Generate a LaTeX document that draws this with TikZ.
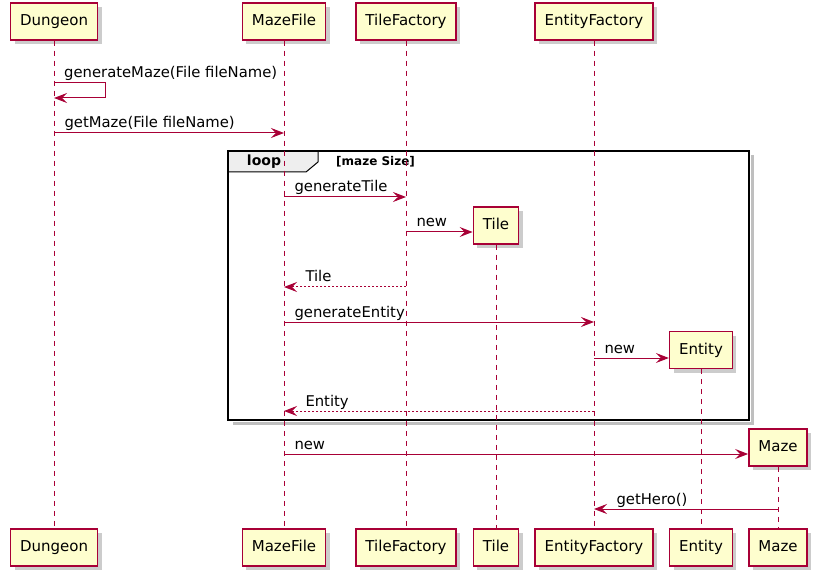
\documentclass[tikz,border=0pt]{standalone}
\usepackage{fontspec}
\setmainfont{DejaVu Sans}
\usetikzlibrary{arrows.meta,shadows}
\definecolor{umlred}{HTML}{A80036}
\definecolor{umlfill}{HTML}{FEFECE}
\definecolor{umltab}{HTML}{EEEEEE}
\tikzset{
  participant/.style={draw=umlred, line width=1.5pt, fill=umlfill,
    minimum height=37pt, inner xsep=9.5pt, text height=11pt, text depth=3pt,
    font=\fontsize{15}{18}\selectfont,
    drop shadow={shadow xshift=4pt, shadow yshift=-4pt, opacity=0.4}},
  lifeline/.style={umlred, line width=1pt, dash pattern=on 5pt off 5pt},
  msg/.style={umlred, line width=1pt, -{Stealth[length=13pt,width=10pt,inset=5pt]}},
  reply/.style={msg, dash pattern=on 2pt off 2pt},
  lbl/.style={text=black, font=\fontsize{14.8}{18}\selectfont, inner sep=0pt,
    anchor=base west}
}
\begin{document}
\begin{tikzpicture}[x=1pt, y=-1pt]
  \useasboundingbox (0,0) rectangle (819,577);
  \begin{scope}
    \draw[black!25, line width=3pt] (233,423) -- (752,423) -- (752,155);
    \draw[fill=umltab, line width=1pt] (228,151) -- (318,151) -- (318,162)
      -- (306,172) -- (228,172) -- cycle;
    \draw[line width=2pt] (228,151) rectangle (749,420);
    \node[font=\bfseries\fontsize{14}{16}\selectfont] (looplbl) at (264,162) {loop};
    \node[font=\bfseries\fontsize{12}{14}\selectfont, anchor=west, inner sep=0pt]
      (loopcond) at (336,162) {[maze Size]};
  \end{scope}
  \begin{scope}[every node/.style={participant}]
    \node (DungeonTop) at (54,21.5) {Dungeon};
    \node (MazeFileTop) at (284,21.5) {MazeFile};
    \node (TileFactoryTop) at (406,21.5) {TileFactory};
    \node (EntityFactoryTop) at (594,21.5) {EntityFactory};
    \node (TileNew) at (496,225.5) {Tile};
    \node (EntityNew) at (701,350) {Entity};
    \node (MazeNew) at (778,447.5) {Maze};
    \node (DungeonBot) at (54,547.5) {Dungeon};
    \node (MazeFileBot) at (284,547.5) {MazeFile};
    \node (TileFactoryBot) at (406,547.5) {TileFactory};
    \node (TileBot) at (496,547.5) {Tile};
    \node (EntityFactoryBot) at (594,547.5) {EntityFactory};
    \node (EntityBot) at (701,547.5) {Entity};
    \node (MazeBot) at (778,547.5) {Maze};
  \end{scope}
  \foreach \a/\b in {DungeonTop/DungeonBot, MazeFileTop/MazeFileBot,
    TileFactoryTop/TileFactoryBot, EntityFactoryTop/EntityFactoryBot,
    TileNew/TileBot, EntityNew/EntityBot, MazeNew/MazeBot}
    \draw[lifeline] (\a.south) -- (\b.north);
  \draw[msg] (DungeonTop.south |- 0,83) -- ++(51,0) -- ++(0,15)
    -- (DungeonTop.south |- 0,98);
  \node[lbl] (m1) at (64,78) {generateMaze(File fileName)};
  \draw[msg] (DungeonTop.south |- 0,133) -- (MazeFileTop.south |- 0,133)
    node[lbl, pos=0, xshift=10pt, yshift=5pt] (m2) {getMaze(File fileName)};
  \draw[msg] (MazeFileTop.south |- 0,197) -- (TileFactoryTop.south |- 0,197)
    node[lbl, pos=0, xshift=10pt, yshift=5pt] (m3) {generateTile};
  \draw[msg] (TileFactoryTop.south |- 0,232) -- (TileNew.west |- 0,232)
    node[lbl, pos=0, xshift=10pt, yshift=5pt] (m4) {new};
  \draw[reply] (TileFactoryTop.south |- 0,287) -- (MazeFileTop.south |- 0,287)
    node[lbl, pos=1, xshift=21pt, yshift=5pt] (m5) {Tile};
  \draw[msg] (MazeFileTop.south |- 0,322) -- (EntityFactoryTop.south |- 0,322)
    node[lbl, pos=0, xshift=10pt, yshift=5pt] (m6) {generateEntity};
  \draw[msg] (EntityFactoryTop.south |- 0,358) -- (EntityNew.west |- 0,358)
    node[lbl, pos=0, xshift=10pt, yshift=5pt] (m7) {new};
  \draw[reply] (EntityFactoryTop.south |- 0,411) -- (MazeFileTop.south |- 0,411)
    node[lbl, pos=1, xshift=21pt, yshift=5pt] (m8) {Entity};
  \draw[msg] (MazeFileTop.south |- 0,454) -- (MazeNew.west |- 0,454)
    node[lbl, pos=0, xshift=10pt, yshift=5pt] (m9) {new};
  \draw[msg] (MazeNew.south |- 0,509) -- (EntityFactoryTop.south |- 0,509)
    node[lbl, pos=1, xshift=22pt, yshift=5pt] (m10) {getHero()};
\end{tikzpicture}
\end{document}
